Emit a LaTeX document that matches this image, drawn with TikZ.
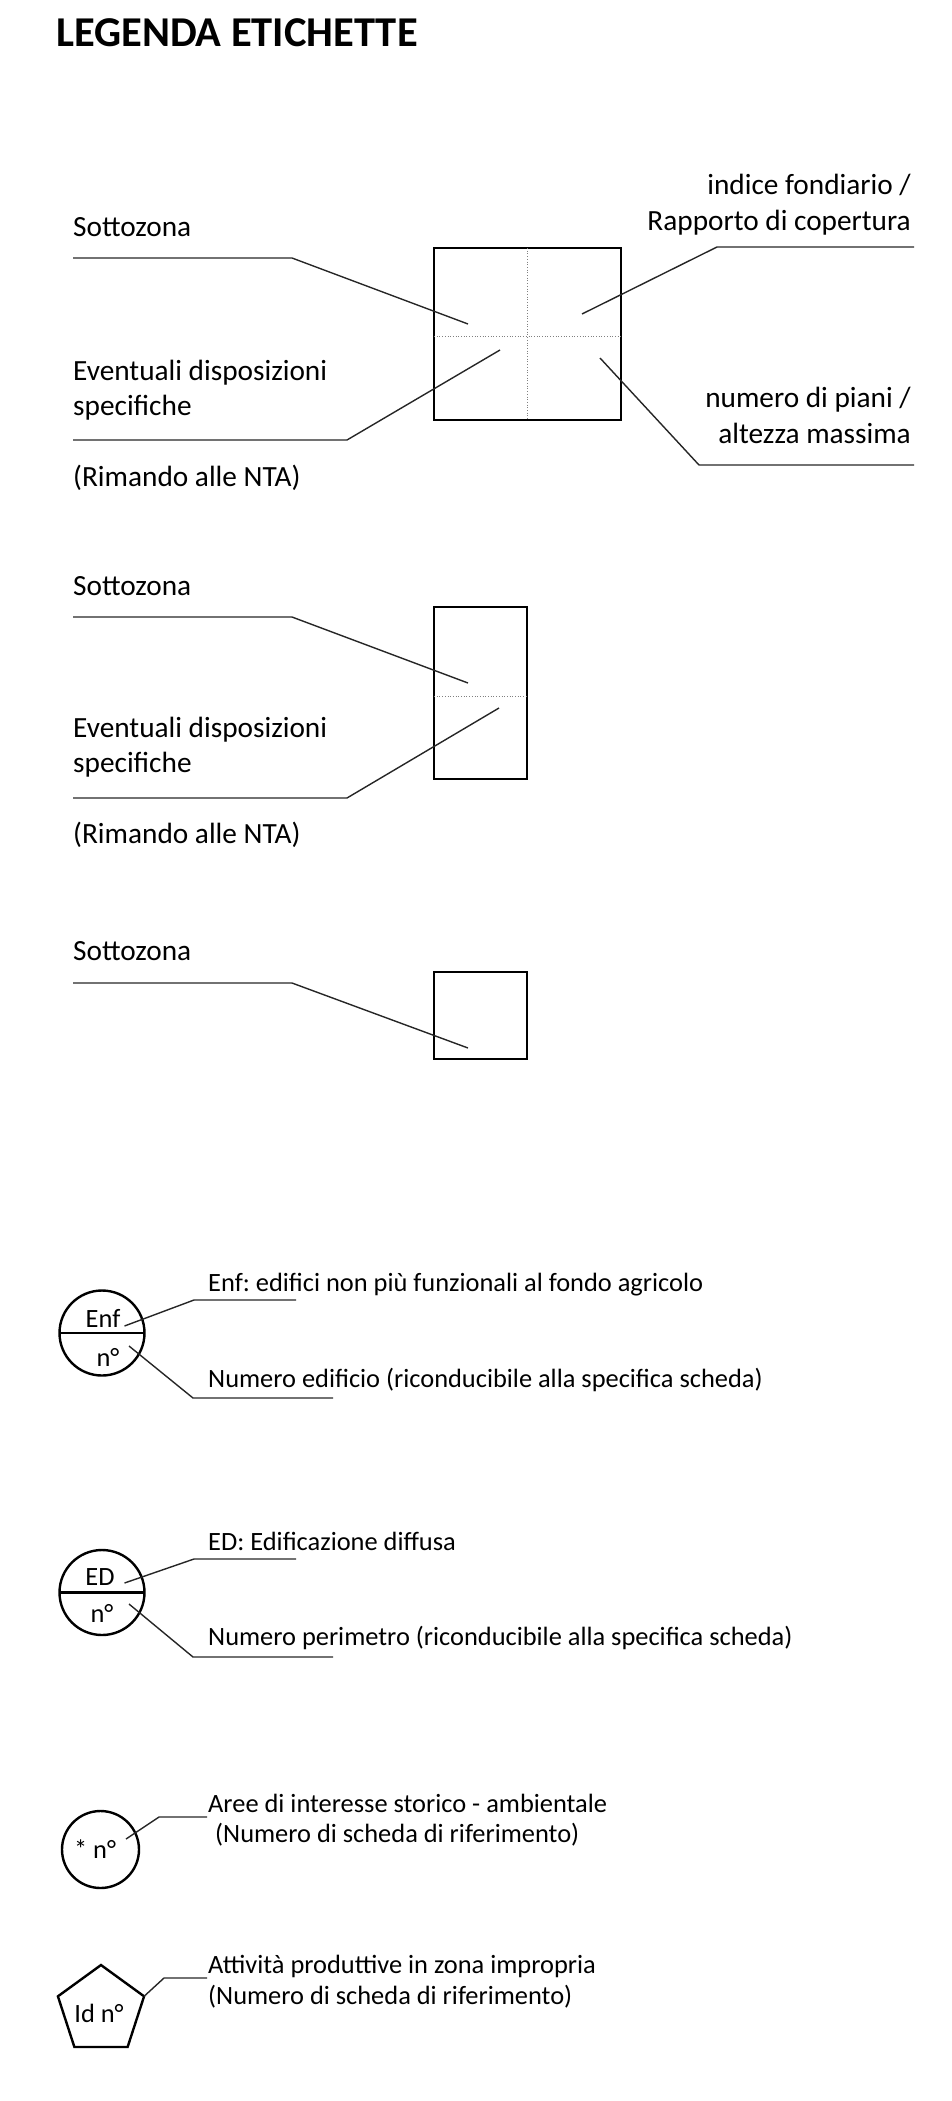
\documentclass[tikz,border=0pt]{standalone}
\usepackage{fontspec}
\setmainfont{Carlito}
\frenchspacing
\usetikzlibrary{shapes.geometric,positioning}

\begin{document}
\begin{tikzpicture}[x=1pt, y=-1pt,
  lbl/.style={anchor=base west, inner sep=0pt, font=\fontsize{29.3}{35}\selectfont},
  lblr/.style={lbl, anchor=base east},
  nota/.style={anchor=base west, inner sep=0pt, font=\fontsize{26.4}{31}\selectfont},
  sigla/.style={anchor=base, inner sep=0pt, font=\fontsize{26.4}{31}\selectfont},
  lead/.style={line width=1.4pt, black!85},
  cella/.style={rectangle, draw, line width=2pt, inner sep=0pt, outer sep=0pt},
  sep/.style={draw=black!50, line width=0.9pt, dash pattern=on 0.9pt off 1.8pt},
  tondo/.style={circle, draw, line width=2.4pt, inner sep=0pt, outer sep=0pt}]
  \useasboundingbox (0,0) rectangle (952,2101);

  \node[anchor=base west, inner sep=0pt, font=\bfseries\fontsize{42.5}{48}\selectfont] (titolo) at (56,47) {LEGENDA ETICHETTE};

  % etichetta completa
  \node[cella, minimum width=187pt, minimum height=172pt] (cas1) at (527.5,334) {};
  \draw[sep] (cas1.north) -- (cas1.south);
  \draw[sep] (cas1.west |- 0,336) -- (cas1.east |- 0,336);
  \node[lbl] (sz1) at (73,236) {Sottozona};
  \node[lbl] (ev1) at (73,380) {Eventuali disposizioni};
  \node[lbl] (ev1b) at (73,415) {specifiche};
  \node[lbl] (nta1) at (73,486) {(Rimando alle NTA)};
  \node[lblr] (if1) at (911,194) {indice fondiario /};
  \node[lblr] (rc1) at (911,230) {Rapporto di copertura};
  \node[lblr] (np1) at (911,407) {numero di piani /};
  \node[lblr] (am1) at (911,443) {altezza massima};
  \coordinate (a1) at (73,258);   \coordinate (a2) at (292,258);  \coordinate (a3) at (468,324);
  \coordinate (b1) at (73,440);   \coordinate (b2) at (347,440);  \coordinate (b3) at (500,350);
  \coordinate (c1) at (914,247);  \coordinate (c2) at (717,247);  \coordinate (c3) at (582,314);
  \coordinate (d1) at (914,465);  \coordinate (d2) at (699,465);  \coordinate (d3) at (600,358);
  \draw[lead] (a1) -- (a2) -- (a3);
  \draw[lead] (b1) -- (b2) -- (b3);
  \draw[lead] (c1) -- (c2) -- (c3);
  \draw[lead] (d1) -- (d2) -- (d3);

  % etichetta ridotta
  \node[cella, minimum width=93pt, minimum height=172pt] (cas2) at (480.5,693) {};
  \draw[sep] (cas2.west |- 0,696) -- (cas2.east |- 0,696);
  \node[lbl] (sz2) at (73,595) {Sottozona};
  \node[lbl] (ev2) at (73,737) {Eventuali disposizioni};
  \node[lbl] (ev2b) at (73,772) {specifiche};
  \node[lbl] (nta2) at (73,843) {(Rimando alle NTA)};
  \coordinate (e1) at (73,617);   \coordinate (e2) at (292,617);  \coordinate (e3) at (468,683);
  \coordinate (f1) at (73,798);   \coordinate (f2) at (347,798);  \coordinate (f3) at (499,708);
  \draw[lead] (e1) -- (e2) -- (e3);
  \draw[lead] (f1) -- (f2) -- (f3);

  % solo sottozona
  \node[cella, minimum width=93pt, minimum height=87pt] (cas3) at (480.5,1015.5) {};
  \node[lbl] (sz3) at (73,960) {Sottozona};
  \coordinate (g1) at (73,983);   \coordinate (g2) at (292,983);  \coordinate (g3) at (468,1048);
  \draw[lead] (g1) -- (g2) -- (g3);

  % Enf
  \node[tondo, minimum size=85pt] (enf) at (102,1333) {};
  \draw[line width=2.4pt] (enf.west) -- (enf.east);
  \node[sigla] (enfs) at (103,1327) {Enf};
  \node[sigla] (enfn) at (108,1366) {n°};
  \node[nota] (enft) at (208,1291) {Enf: edifici non più funzionali al fondo agricolo};
  \node[nota] (enfd) at (208,1387) {Numero edificio (riconducibile alla specifica scheda)};
  \coordinate (h1) at (124.5,1326); \coordinate (h2) at (194,1300); \coordinate (h3) at (296,1300);
  \coordinate (i1) at (129,1346);   \coordinate (i2) at (193,1398); \coordinate (i3) at (333,1398);
  \draw[lead] (h1) -- (h2) -- (h3);
  \draw[lead] (i1) -- (i2) -- (i3);

  % ED
  \node[tondo, minimum size=85pt] (ed) at (102,1592.5) {};
  \draw[line width=2.4pt] (ed.west) -- (ed.east);
  \node[sigla] (eds) at (100,1585) {ED};
  \node[sigla] (edn) at (102,1622) {n°};
  \node[nota] (edt) at (208,1550) {ED: Edificazione diffusa};
  \node[nota] (edd) at (208,1645) {Numero perimetro (riconducibile alla specifica scheda)};
  \coordinate (j1) at (124.5,1583); \coordinate (j2) at (194,1559); \coordinate (j3) at (296,1559);
  \coordinate (k1) at (129,1604);   \coordinate (k2) at (193,1657); \coordinate (k3) at (333,1657);
  \draw[lead] (j1) -- (j2) -- (j3);
  \draw[lead] (k1) -- (k2) -- (k3);

  % aree storiche
  \node[tondo, minimum size=77pt] (ais) at (100.5,1849.5) {};
  \node[sigla] (aisn) at (95,1858) {* n°};
  \node[nota] (aist) at (208,1812) {Aree di interesse storico - ambientale};
  \node[nota] (aisd) at (215,1842) {(Numero di scheda di riferimento)};
  \coordinate (l1) at (126,1839); \coordinate (l2) at (159,1817); \coordinate (l3) at (207,1817);
  \draw[lead] (l1) -- (l2) -- (l3);

  % attivita produttive
  \node[regular polygon, regular polygon sides=5, draw, line width=2.4pt, inner sep=0pt,
        outer sep=0pt, minimum size=90.6pt] (pent) at (101,2010.3) {};
  \node[sigla] (pentn) at (99,2022) {Id n°};
  \node[nota] (pentt) at (208,1973) {Attività produttive in zona impropria};
  \node[nota] (pentd) at (208,2004) {(Numero di scheda di riferimento)};
  \coordinate (m2) at (164,1978); \coordinate (m3) at (207,1978);
  \draw[lead] (pent.corner 5) -- (m2) -- (m3);
\end{tikzpicture}
\end{document}
